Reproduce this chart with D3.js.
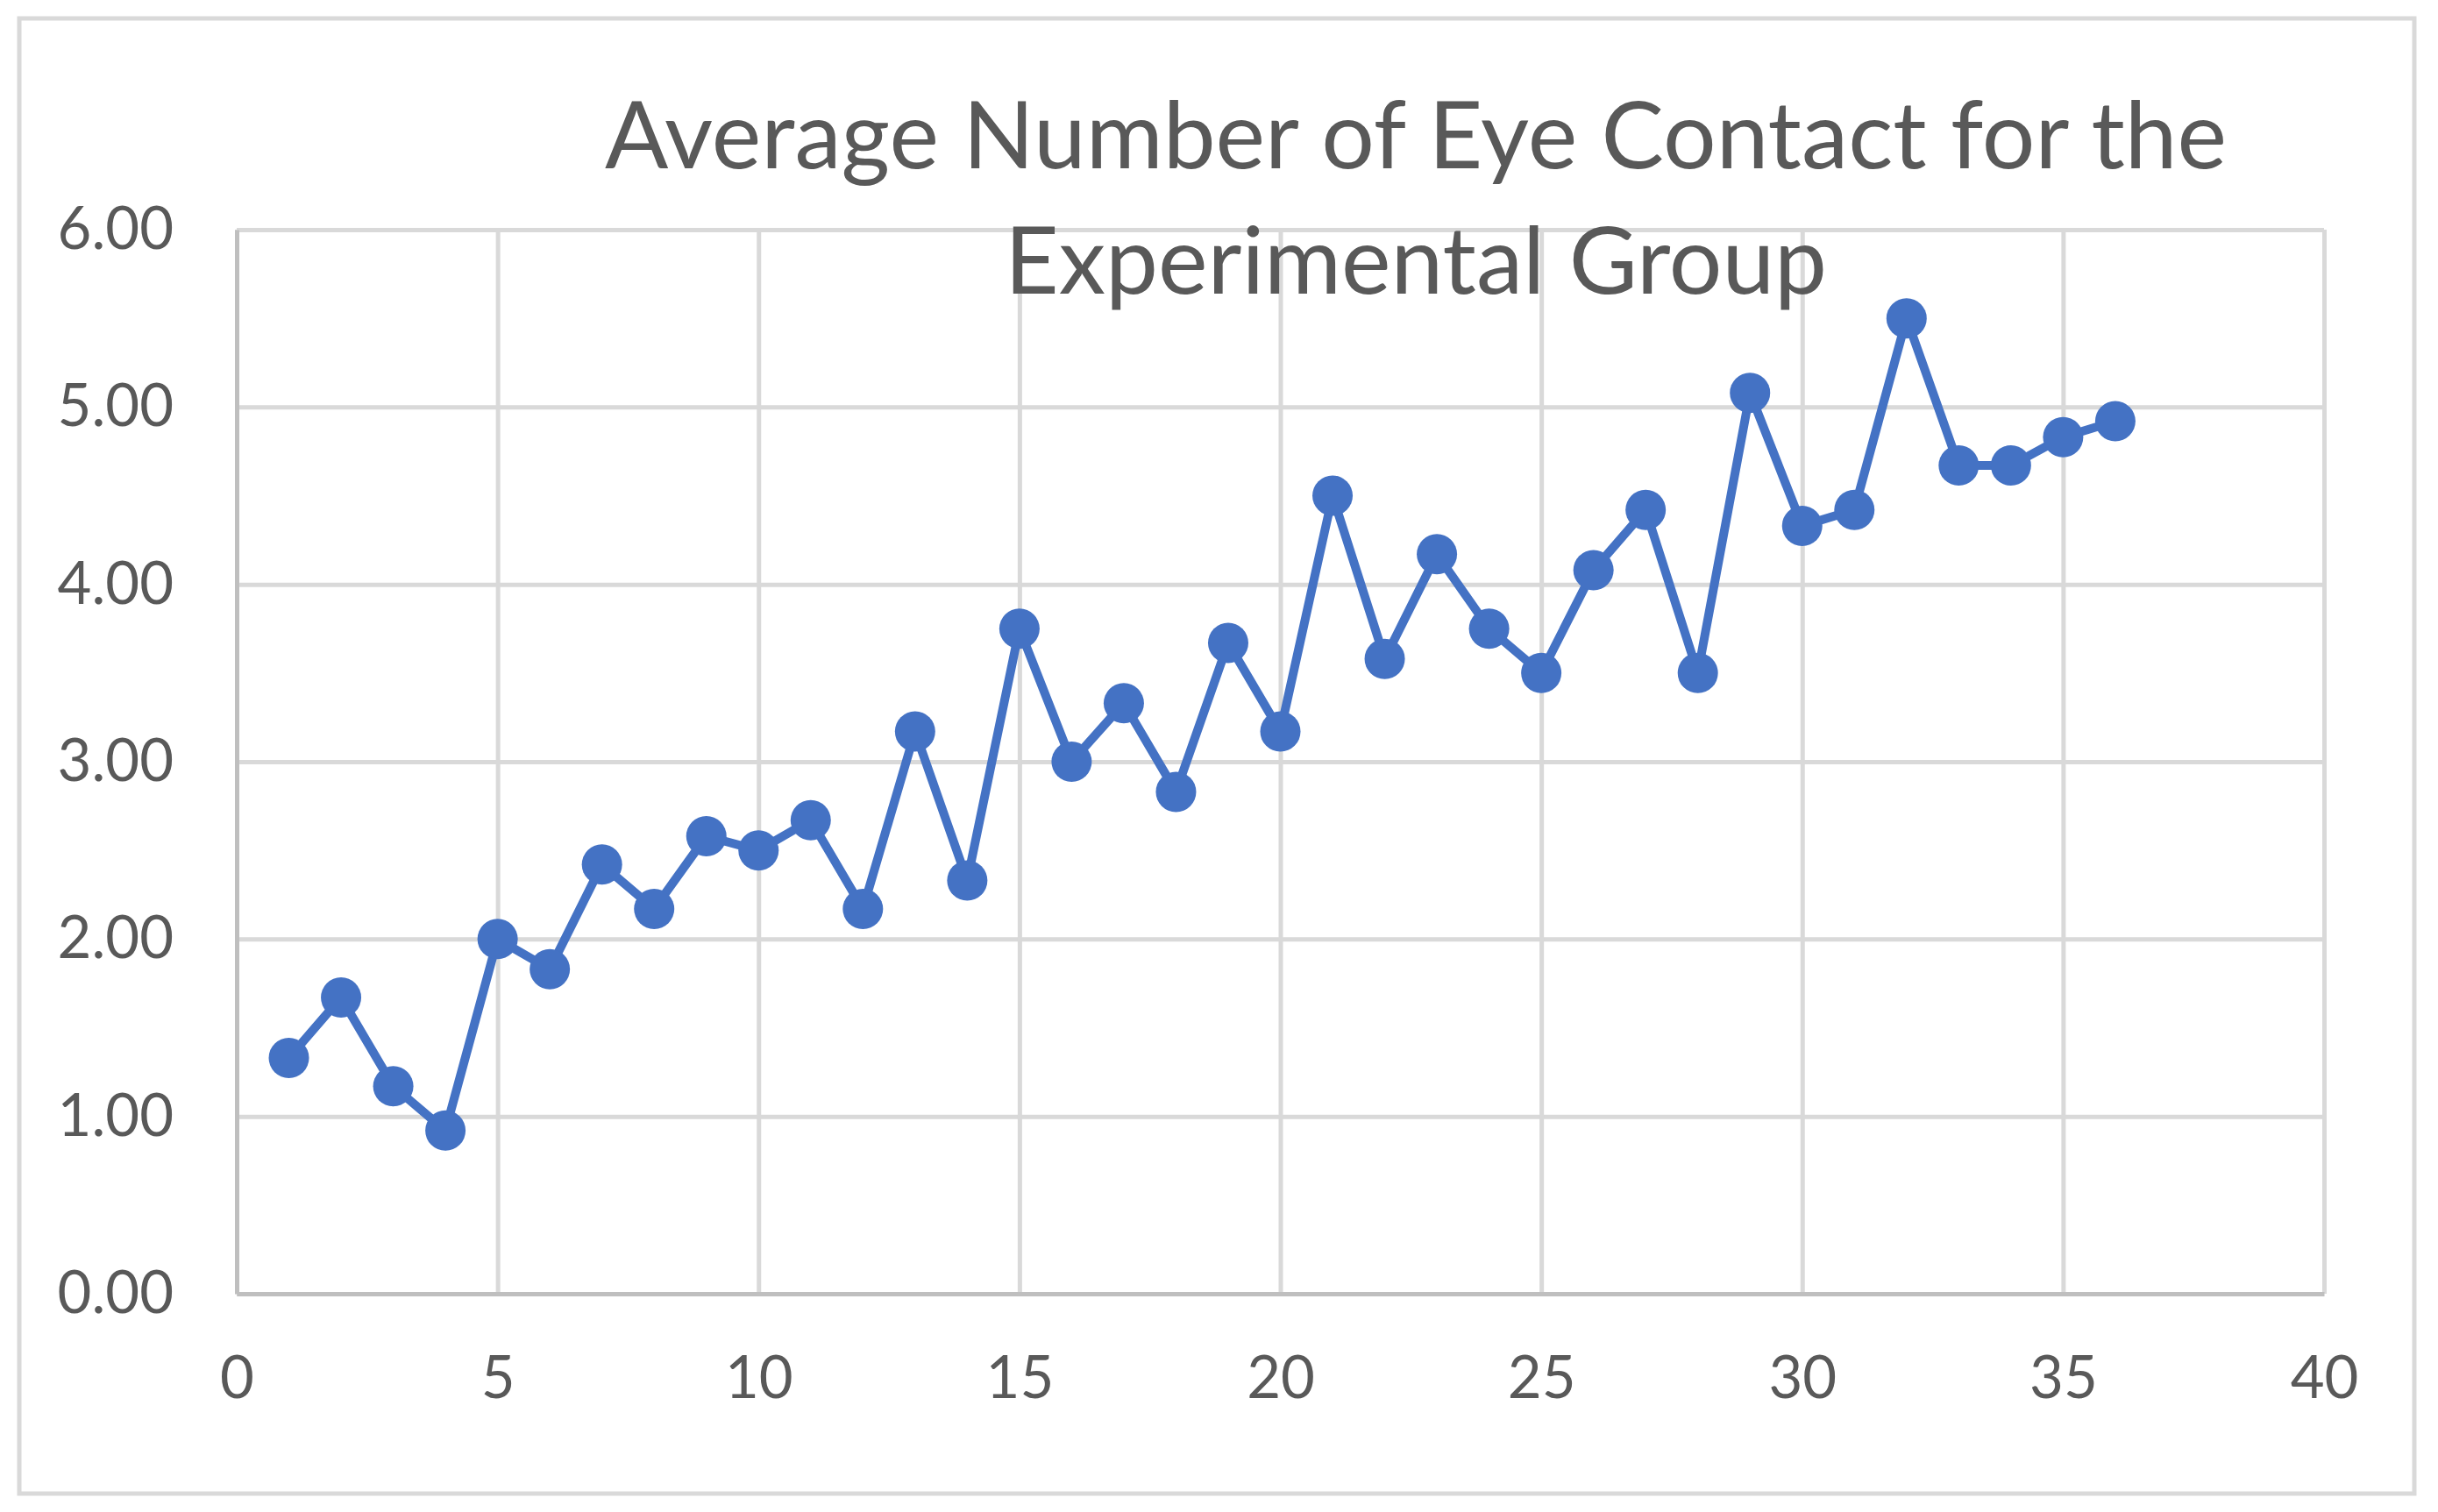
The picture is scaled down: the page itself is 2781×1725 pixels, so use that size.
<!DOCTYPE html>
<html>
<head>
<meta charset="utf-8">
<script src="https://cdn.jsdelivr.net/npm/d3@7"></script>
<style>
  body { margin: 0; background: #fff; }
  text { font-family: Lato, "Open Sans", sans-serif; fill: #595959; }
</style>
</head>
<body>
<svg id="chart"></svg>
<script>
// session number and average eye contact count
const sessions = d3.range(1, 37)
const eyeContact = [
  1.33, 1.67, 1.17, 0.92, 2.00, 1.83, 2.42, 2.17, 2.58, 2.50,
  2.67, 2.17, 3.17, 2.33, 3.75, 3.00, 3.33, 2.83, 3.67, 3.17,
  4.50, 3.58, 4.17, 3.75, 3.50, 4.08, 4.42, 3.50, 5.08, 4.33,
  4.42, 5.50, 4.67, 4.67, 4.83, 4.92
]
const xTicks = [0, 5, 10, 15, 20, 25, 30, 35, 40]
const yTicks = [0, 1, 2, 3, 4, 5, 6]
const titleLines = ['Average Number of Eye Contact for the', 'Experimental Group']

const width = 2781
const height = 1725
const plotLeft = 270, plotRight = 2651, plotTop = 262, plotBottom = 1476

const svg = d3.select('#chart')
  .attr('width', width)
  .attr('height', height)

// chart area border
svg.append('rect')
  .attr('x', 22).attr('y', 21)
  .attr('width', 2732).attr('height', 1683)
  .attr('fill', '#fff')
  .attr('stroke', '#d9d9d9')
  .attr('stroke-width', 5)

const x = d3.scaleLinear().domain([0, 40]).range([plotLeft, plotRight])
const y = d3.scaleLinear().domain([0, 6]).range([plotBottom, plotTop])

// grid lines
svg.append('g')
  .attr('transform', `translate(${plotLeft},0)`)
  .call(d3.axisLeft(y).tickValues(yTicks).tickSize(-(plotRight - plotLeft)).tickFormat(''))
  .call(g => g.select('.domain').remove())
  .call(g => g.selectAll('line').attr('stroke', '#d9d9d9').attr('stroke-width', 5))

svg.append('g')
  .attr('transform', `translate(0,${plotBottom})`)
  .call(d3.axisBottom(x).tickValues(xTicks).tickSize(-(plotBottom - plotTop)).tickFormat(''))
  .call(g => g.select('.domain').remove())
  .call(g => g.selectAll('line').attr('stroke', '#d9d9d9').attr('stroke-width', 5))

// axes with labels
svg.append('g')
  .attr('transform', `translate(${plotLeft},0)`)
  .call(d3.axisLeft(y).tickValues(yTicks).tickSize(0).tickPadding(72).tickFormat(d3.format('.2f')))
  .call(g => g.select('.domain').attr('stroke', '#bfbfbf').attr('stroke-width', 5))
  .call(g => g.selectAll('text').attr('font-size', 67).attr('fill', '#595959').attr('font-family', null))

svg.append('g')
  .attr('transform', `translate(0,${plotBottom})`)
  .call(d3.axisBottom(x).tickValues(xTicks).tickSize(0).tickPadding(71))
  .call(g => g.select('.domain').attr('stroke', '#bfbfbf').attr('stroke-width', 5))
  .call(g => g.selectAll('text').attr('font-size', 67).attr('fill', '#595959').attr('font-family', null))

// title
svg.append('text')
  .attr('text-anchor', 'middle')
  .attr('font-size', 107)
  .selectAll('tspan')
  .data(titleLines)
  .enter().append('tspan')
    .attr('x', 1615)
    .attr('y', (d, i) => 192 + i * 143)
    .text(d => d)

const points = sessions.map((s, i) => ({ s: s, v: eyeContact[i] }))

const line = d3.line()
  .x(d => x(d.s))
  .y(d => y(d.v))

svg.append('path')
  .datum(points)
  .attr('d', line)
  .attr('fill', 'none')
  .attr('stroke', '#4472c4')
  .attr('stroke-width', 10)
  .attr('stroke-linejoin', 'round')

svg.selectAll('circle.pt')
  .data(points)
  .enter().append('circle')
    .attr('class', 'pt')
    .attr('cx', d => x(d.s))
    .attr('cy', d => y(d.v))
    .attr('r', 23)
    .attr('fill', '#4472c4')
</script>
</body>
</html>
